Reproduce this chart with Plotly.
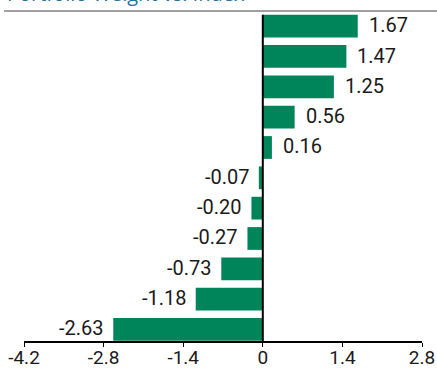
import plotly.graph_objects as go

# Active weight of each holding versus the index (percentage points)
categories = ["A", "B", "C", "D", "E", "F", "G", "H", "I", "J", "K"]
weights = [1.67, 1.47, 1.25, 0.56, 0.16, -0.07, -0.20, -0.27, -0.73, -1.18, -2.63]
tick_vals = [-4.2, -2.8, -1.4, 0, 1.4, 2.8]
tick_text = ["-4.2", "-2.8", "-1.4", "0", "1.4", "2.8"]

GREEN = "#00845a"
FONT = "Roboto"

# bottom-to-top order so the largest overweight sits at the top
ypos = list(range(len(categories) - 1, -1, -1))

fig = go.Figure()
fig.add_trace(go.Bar(
    x=weights,
    y=ypos,
    orientation="h",
    marker=dict(color=GREEN, line=dict(width=0)),
    width=0.75,
    hoverinfo="x",
))

# value labels beside each bar end
for v, y in zip(weights, ypos):
    fig.add_annotation(
        x=v, y=y, xref="x", yref="y",
        text=f"{v:.2f}",
        showarrow=False,
        xanchor="left" if v >= 0 else "right",
        xshift=9 if v >= 0 else -7,
        yshift=1,
        font=dict(family=FONT, size=20, color="#1a1a1a"),
    )

# zero line from the axis up to the top bar
fig.add_shape(type="line", xref="x", yref="y",
              x0=0, x1=0, y0=-0.4, y1=ypos[0] + 0.375,
              line=dict(color="black", width=2))

# header rule and title
fig.add_shape(type="line", xref="paper", yref="paper",
              x0=-0.05, x1=1.05, y0=1.0, y1=1.0,
              line=dict(color="#a0a0a0", width=2))
fig.add_annotation(
    xref="paper", yref="paper", x=-0.048, y=1.0, yshift=2,
    xanchor="left", yanchor="bottom",
    text="Portfolio Weight vs. Index", showarrow=False,
    font=dict(family="Open Sans", size=20, color="#1f74a6"),
)

fig.update_xaxes(
    range=[-4.2, 2.8],
    tickvals=tick_vals, ticktext=tick_text,
    showgrid=False, zeroline=False, automargin=False,
    showline=True, linecolor="black", linewidth=2,
    ticks="outside", ticklen=4, tickwidth=1, tickcolor="black",
    ticklabelstandoff=-6,
    tickfont=dict(family=FONT, size=19, color="#1a1a1a"),
)
fig.update_yaxes(
    range=[-0.38, 10.5], automargin=False,
    showgrid=False, zeroline=False, showline=False,
    showticklabels=False, ticks="",
)
fig.update_layout(
    width=437, height=369,
    margin=dict(l=24, r=15, t=11, b=28),
    paper_bgcolor="white", plot_bgcolor="white",
    showlegend=False,
    bargap=0.25,
)

fig.write_html("out.html")
